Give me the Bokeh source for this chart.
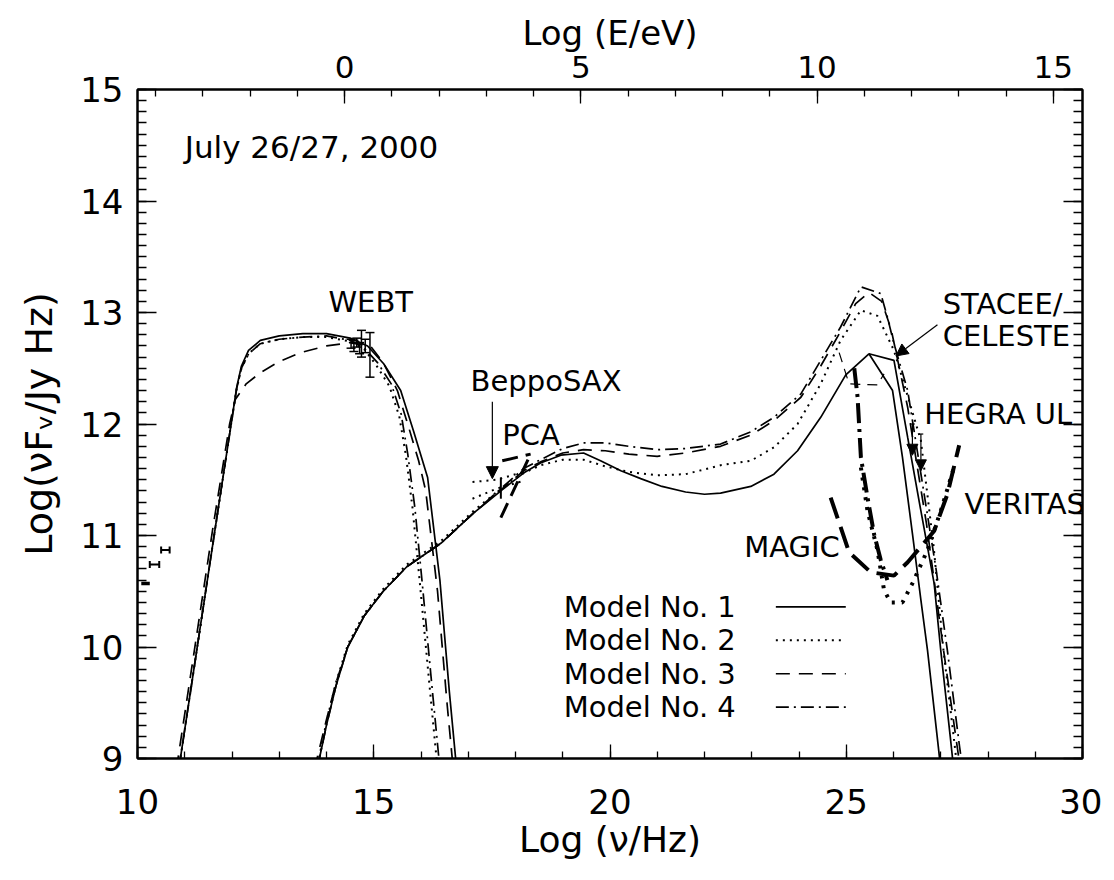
from bokeh.plotting import figure
from bokeh.models import (Range1d, LinearAxis, SingleIntervalTicker, Label, Whisker,
                          ColumnDataSource, Arrow, NormalHead, TeeHead)
from bokeh.embed import file_html
from bokeh.resources import INLINE

FONT = "DejaVu Sans"

# ---------------- data ----------------
# synchrotron components
m1s_x = [10.80, 11.30, 11.65, 12.00, 12.10, 12.20, 12.35, 12.60, 13.00, 13.50, 14.00, 14.50, 14.87, 15.21, 15.57, 15.84, 16.14, 16.40, 16.60, 16.80]
m1s_y = [8.70, 10.10, 11.08, 12.05, 12.33, 12.52, 12.66, 12.75, 12.79, 12.81, 12.81, 12.77, 12.70, 12.54, 12.30, 11.94, 11.52, 10.60, 9.60, 8.70]
m2s_x = [10.80, 11.30, 11.65, 12.00, 12.10, 12.20, 12.35, 12.60, 13.00, 13.50, 14.00, 14.50, 14.80, 15.05, 15.33, 15.54, 15.68, 15.82, 15.97, 16.17, 16.42]
m2s_y = [8.70, 10.10, 11.08, 12.05, 12.32, 12.50, 12.63, 12.72, 12.76, 12.78, 12.78, 12.74, 12.67, 12.53, 12.34, 12.07, 11.72, 11.25, 10.60, 9.70, 8.60]
m3s_x = [10.75, 11.25, 11.60, 11.95, 12.07, 12.30, 12.60, 13.00, 13.45, 14.00, 14.50, 14.93, 15.20, 15.50, 15.74, 15.95, 16.10, 16.35, 16.55, 16.75]
m3s_y = [8.70, 10.10, 11.08, 12.00, 12.22, 12.36, 12.46, 12.56, 12.64, 12.70, 12.73, 12.70, 12.55, 12.30, 11.97, 11.67, 11.40, 10.50, 9.50, 8.60]
m4s_x = [10.80, 11.30, 11.65, 12.00, 12.10, 12.20, 12.35, 12.60, 13.00, 13.50, 14.00, 14.50, 14.80, 15.08, 15.37, 15.58, 15.72, 15.87, 16.02, 16.22, 16.47]
m4s_y = [8.70, 10.10, 11.08, 12.05, 12.32, 12.50, 12.63, 12.72, 12.76, 12.78, 12.79, 12.75, 12.68, 12.55, 12.36, 12.09, 11.73, 11.25, 10.60, 9.70, 8.60]

# Compton components
m1c_x = [13.70, 13.85, 14.00, 14.20, 14.45, 14.80, 15.20, 15.70, 16.42, 17.11, 17.69, 18.17, 18.53, 18.96, 19.44, 19.80, 20.23, 20.65, 21.10, 21.60, 22.00, 22.34, 22.98, 23.47, 23.97, 24.46, 24.99, 25.48, 25.98, 26.19, 26.40, 26.58, 26.72, 26.95, 27.05]
m1c_y = [8.70, 9.00, 9.30, 9.65, 10.00, 10.28, 10.50, 10.72, 10.93, 11.20, 11.40, 11.56, 11.65, 11.72, 11.74, 11.67, 11.58, 11.51, 11.44, 11.39, 11.37, 11.38, 11.44, 11.55, 11.76, 12.06, 12.44, 12.63, 12.30, 11.70, 11.02, 10.42, 9.97, 9.10, 8.70]
m1b_x = [25.48, 26.01, 26.30, 26.58, 26.86, 27.00, 27.20, 27.30]
m1b_y = [12.63, 12.57, 11.88, 11.22, 10.57, 9.97, 9.20, 8.80]
m2c_x = [13.70, 13.85, 14.00, 14.20, 14.45, 14.80, 15.20, 15.70, 16.42, 17.11, 17.69, 18.17, 18.53, 19.00, 19.44, 19.90, 20.40, 21.00, 21.60, 22.34, 22.98, 23.47, 23.97, 24.46, 24.88, 25.31, 25.66, 26.01, 26.30, 26.58, 26.85, 27.05, 27.30, 27.40]
m2c_y = [8.70, 9.02, 9.33, 9.68, 10.02, 10.30, 10.52, 10.74, 10.95, 11.22, 11.42, 11.56, 11.63, 11.68, 11.68, 11.62, 11.57, 11.54, 11.55, 11.63, 11.67, 11.79, 12.00, 12.36, 12.75, 13.02, 12.97, 12.66, 12.25, 11.85, 10.90, 10.00, 9.10, 8.70]
m3c_x = [13.65, 13.80, 14.00, 14.20, 14.45, 14.80, 15.20, 15.70, 16.42, 17.11, 17.69, 18.17, 18.53, 19.00, 19.44, 19.90, 20.40, 21.00, 21.60, 22.34, 22.98, 23.47, 24.04, 24.46, 24.88, 25.20, 25.48, 25.75, 25.95, 26.30, 26.70, 27.05, 27.35, 27.45]
m3c_y = [8.70, 9.00, 9.35, 9.68, 10.00, 10.28, 10.50, 10.72, 10.93, 11.20, 11.41, 11.58, 11.66, 11.74, 11.77, 11.76, 11.73, 11.71, 11.74, 11.80, 11.90, 12.03, 12.24, 12.52, 12.83, 13.08, 13.18, 13.10, 12.85, 12.15, 11.10, 10.00, 9.10, 8.80]
m4c_x = [13.70, 13.85, 14.00, 14.20, 14.45, 14.80, 15.20, 15.70, 16.42, 17.11, 17.69, 18.17, 18.53, 19.00, 19.44, 19.90, 20.40, 21.00, 21.60, 22.34, 22.98, 23.47, 24.04, 24.46, 24.88, 25.31, 25.73, 25.87, 26.01, 26.30, 26.60, 26.90, 27.14, 27.40, 27.50]
m4c_y = [8.70, 9.00, 9.30, 9.65, 10.00, 10.28, 10.50, 10.72, 10.93, 11.20, 11.42, 11.60, 11.68, 11.78, 11.83, 11.83, 11.80, 11.77, 11.78, 11.82, 11.93, 12.06, 12.27, 12.57, 12.87, 13.23, 13.17, 12.96, 12.72, 12.30, 11.50, 10.70, 9.97, 9.10, 8.80]
notch_x = [24.85, 25.06, 25.66, 25.80]
notch_y = [12.64, 12.36, 12.35, 12.45]

# observations
radio_x = [10.36, 10.59]
radio_y = [10.74, 10.87]
radio_xerr = [0.10, 0.09]
radio0_x = [10.17]
radio0_y = [10.57]
radio0_xerr = [0.09]
webt_x = [14.52, 14.58, 14.64, 14.70, 14.74, 14.82, 14.92]
webt_y = [12.72, 12.70, 12.73, 12.68, 12.72, 12.70, 12.62]
webt_err = [0.04, 0.05, 0.04, 0.05, 0.12, 0.06, 0.20]
sax_up_x = [17.09, 17.60, 18.17]
sax_up_y = [11.48, 11.50, 11.57]
sax_lo_x = [17.09, 17.60, 18.17]
sax_lo_y = [11.33, 11.42, 11.49]
sax_bar_x = [17.69]
sax_bar_lo = [11.33]
sax_bar_hi = [11.52]
pca_a_x = [17.69, 18.32]
pca_a_y = [11.16, 11.73]
pca_b_x = [17.72, 18.32]
pca_b_y = [11.67, 11.73]
hegra_x = [26.40, 26.58]
hegra_top = [12.00, 11.91]
hegra_tip = [11.72, 11.58]

# sensitivity curves
magic_x = [24.67, 25.06, 25.52, 26.01, 26.30, 26.86, 27.14, 27.39]
magic_y = [11.34, 10.85, 10.67, 10.64, 10.76, 11.04, 11.37, 11.81]
ver_a_x = [25.17, 25.24, 25.31, 25.45, 25.59, 25.73, 25.87]
ver_a_y = [12.50, 12.24, 11.70, 11.34, 11.01, 10.78, 10.60]
ver_b_x = [25.31, 25.45, 25.66, 25.80, 25.94, 26.19, 26.40, 26.72, 27.00, 27.28]
ver_b_y = [11.61, 11.22, 10.87, 10.51, 10.40, 10.40, 10.57, 10.87, 11.22, 11.61]

legend_labels = ["Model No. 1", "Model No. 2", "Model No. 3", "Model No. 4"]

# ---------------- figure ----------------
p = figure(frame_width=945, frame_height=669,
           x_range=Range1d(10, 30), y_range=Range1d(9, 15),
           x_axis_type=None, y_axis_type=None,
           output_backend="svg", toolbar_location=None,
           min_border_left=137, min_border_right=20,
           min_border_top=89, min_border_bottom=116)
p.extra_x_ranges = {"E": Range1d(10 - 14.383, 30 - 14.383)}
p.outline_line_color = "black"
p.outline_line_width = 2
p.background_fill_color = "white"
p.border_fill_color = "white"


def style_axis(ax, major_in, minor_in, fs, standoff, label_fs="34px", label_standoff=0):
    ax.axis_line_color = "black"
    ax.axis_line_width = 2
    ax.major_tick_in = major_in
    ax.major_tick_out = 0
    ax.minor_tick_in = minor_in
    ax.minor_tick_out = 0
    ax.major_tick_line_color = "black"
    ax.minor_tick_line_color = "black"
    ax.major_tick_line_width = 1.3
    ax.minor_tick_line_width = 1.3
    ax.major_label_text_font = FONT
    ax.major_label_text_font_size = fs
    ax.major_label_text_color = "black"
    ax.major_label_standoff = standoff
    ax.axis_label_text_font = FONT
    ax.axis_label_text_font_style = "normal"
    ax.axis_label_text_font_size = label_fs
    ax.axis_label_text_color = "black"
    ax.axis_label_standoff = label_standoff


bottom = LinearAxis(ticker=SingleIntervalTicker(interval=5, num_minor_ticks=5), axis_label="Log (ν/Hz)")
style_axis(bottom, 14, 7, "34px", 30, "36px", 2)
p.add_layout(bottom, "below")

left = LinearAxis(ticker=SingleIntervalTicker(interval=1, num_minor_ticks=10), axis_label="Log(νFᵥ/Jy Hz)")
style_axis(left, 19, 9, "34px", 14, "38px", 16)
p.add_layout(left, "left")

top = LinearAxis(x_range_name="E", ticker=SingleIntervalTicker(interval=5, num_minor_ticks=5), axis_label="Log (E/eV)")
style_axis(top, 14, 7, "31px", 12, "34px", 0)
p.add_layout(top, "above")

right = LinearAxis(ticker=SingleIntervalTicker(interval=1, num_minor_ticks=10))
style_axis(right, 19, 9, "1px", 0, "1px", 0)
right.major_label_text_color = None
p.add_layout(right, "right")

SOLID = dict(line_color="black", line_width=1.7)
DOT = dict(line_color="black", line_width=2.0, line_dash="2 5")
DASH = dict(line_color="black", line_width=1.7, line_dash="14 9")
DASHDOT = dict(line_color="black", line_width=1.7, line_dash="13 5 2 5")

# model curves
p.line(m1s_x, m1s_y, **SOLID)
p.line(m2s_x, m2s_y, **DOT)
p.line(m3s_x, m3s_y, **DASH)
p.line(m4s_x, m4s_y, **DASHDOT)
p.line(m1c_x, m1c_y, **SOLID)
p.line(m1b_x, m1b_y, **SOLID)
p.line(m2c_x, m2c_y, **DOT)
p.line(m3c_x, m3c_y, **DASH)
p.line(m4c_x, m4c_y, **DASHDOT)
p.line(notch_x, notch_y, line_color="black", line_width=1.2, line_dash="10 7")

# sensitivity curves
p.line(magic_x, magic_y, line_color="black", line_width=4, line_dash="22 9")
p.line(ver_a_x, ver_a_y, line_color="black", line_width=4, line_dash="20 6 3 6")
p.line(ver_b_x, ver_b_y, line_color="black", line_width=4, line_dash="3 7")

# X-ray bowties
p.line(sax_up_x, sax_up_y, line_color="black", line_width=2, line_dash="2 5")
p.line(sax_lo_x, sax_lo_y, line_color="black", line_width=2, line_dash="2 5")
p.segment(x0=sax_bar_x, y0=sax_bar_lo, x1=sax_bar_x, y1=sax_bar_hi, line_color="black", line_width=2)
p.line(pca_a_x, pca_a_y, line_color="black", line_width=3, line_dash="16 8")
p.line(pca_b_x, pca_b_y, line_color="black", line_width=3, line_dash="16 8")

# WEBT error bars
wsrc = ColumnDataSource(dict(x=webt_x,
                             lo=[y - e for y, e in zip(webt_y, webt_err)],
                             hi=[y + e for y, e in zip(webt_y, webt_err)]))
p.add_layout(Whisker(source=wsrc, base="x", lower="lo", upper="hi", dimension="height",
                     line_color="black", line_width=1.5,
                     upper_head=TeeHead(size=9, line_width=1.5, line_color="black"),
                     lower_head=TeeHead(size=9, line_width=1.5, line_color="black")))
# radio points
rsrc = ColumnDataSource(dict(y=radio_y,
                             lo=[x - e for x, e in zip(radio_x, radio_xerr)],
                             hi=[x + e for x, e in zip(radio_x, radio_xerr)]))
p.add_layout(Whisker(source=rsrc, base="y", lower="lo", upper="hi", dimension="width",
                     line_color="black", line_width=2,
                     upper_head=TeeHead(size=7, line_width=2, line_color="black"),
                     lower_head=TeeHead(size=7, line_width=2, line_color="black")))
r0src = ColumnDataSource(dict(y=radio0_y,
                              lo=[x - e for x, e in zip(radio0_x, radio0_xerr)],
                              hi=[x + e for x, e in zip(radio0_x, radio0_xerr)]))
p.add_layout(Whisker(source=r0src, base="y", lower="lo", upper="hi", dimension="width",
                     line_color="black", line_width=3.5, upper_head=None, lower_head=None))

# upper limits / arrows
for hx, ht, hb in zip(hegra_x, hegra_top, hegra_tip):
    p.add_layout(Arrow(x_start=hx, y_start=ht, x_end=hx, y_end=hb, line_width=1.2,
                       end=NormalHead(size=11, fill_color="black", line_color="black")))
    p.segment(x0=[hx - 0.05], y0=[ht], x1=[hx + 0.05], y1=[ht], line_color="black", line_width=1.2)
p.add_layout(Arrow(x_start=26.93, y_start=12.89, x_end=26.05, y_end=12.61, line_width=1.2,
                   end=NormalHead(size=12, fill_color="black", line_color="black")))
p.add_layout(Arrow(x_start=17.51, y_start=12.20, x_end=17.51, y_end=11.51, line_width=1.2,
                   end=NormalHead(size=12, fill_color="black", line_color="black")))

# text annotations
def txt(x, y, s, size="29px"):
    p.add_layout(Label(x=x, y=y, text=s, text_font=FONT, text_font_size=size,
                       text_baseline="middle", text_align="left", text_color="black"))

txt(11.0, 14.48, "July 26/27, 2000", "31px")
txt(14.04, 13.09, "WEBT")
txt(17.05, 12.39, "BeppoSAX")
txt(17.72, 11.90, "PCA")
txt(27.04, 13.08, "STACEE/")
txt(27.04, 12.79, "CELESTE")
txt(26.65, 12.09, "HEGRA UL")
txt(27.50, 11.28, "VERITAS")
txt(22.84, 10.90, "MAGIC")

# legend
styles = [SOLID, DOT, DASH, DASHDOT]
for i, (lab, st) in enumerate(zip(legend_labels, styles)):
    yy = 10.36 - i * 0.30
    txt(19.02, yy, lab)
    p.line([23.51, 24.99], [yy, yy], **st)

open("out.html", "w").write(file_html(p, INLINE))
